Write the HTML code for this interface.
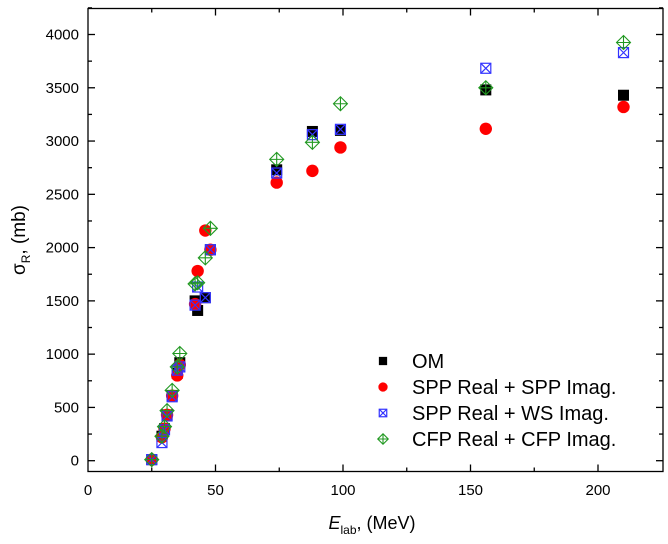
<!DOCTYPE html>
<html><head><meta charset="utf-8"><style>
html,body{margin:0;padding:0;background:#fff;}
svg{display:block;font-family:"Liberation Sans",Arial,sans-serif;}
</style></head><body>
<svg id="chart" width="668" height="544">
<rect x="88" y="8.5" width="575" height="463" fill="none" stroke="#000" stroke-width="1.3"/>
<g id="ticks"></g>
<g id="xlabels" font-size="15" text-anchor="middle"></g>
<g id="ylabels" font-size="15" text-anchor="end"></g>
<text x="372" y="529" font-size="18" text-anchor="middle"><tspan font-style="italic">E</tspan><tspan font-size="12" dy="5">lab</tspan><tspan dy="-5">, (MeV)</tspan></text>
<text transform="translate(25,240) rotate(-90)" font-size="19" text-anchor="middle">σ<tspan font-size="12" dy="5">R</tspan><tspan dy="-5">, (mb)</tspan></text>
<g id="marks"></g>
<g id="legend" font-size="20"></g>
</svg>
<script>
const energies = [25, 29, 30, 31, 33, 35, 36, 42, 43, 46, 48, 74, 88, 99, 156, 210];
const omValues  = [10, 230, 300, 430, 610, 820, 920, 1500, 1410, 1530, 1980, 2730, 3090, 3100, 3480, 3430];
const sppValues = [10, 220, 300, 430, 610, 800, 900, 1470, 1780, 2160, 1980, 2610, 2720, 2940, 3115, 3320];
const wsValues  = [10, 170, 290, 420, 600, 850, 880, 1460, 1630, 1530, 1980, 2700, 3060, 3110, 3683, 3830];
const cfpValues = [10, 230, 320, 470, 660, 880, 1006, 1660, 1670, 1904, 2181, 2828, 2988, 3350, 3500, 3925];
const xTicks = [0, 50, 100, 150, 200];
const yTicks = [0, 500, 1000, 1500, 2000, 2500, 3000, 3500, 4000];
const legendLabels = ["OM", "SPP Real + SPP Imag.", "SPP Real + WS Imag.", "CFP Real + CFP Imag."];

const NS = "http://www.w3.org/2000/svg";
const X0 = 88, XPX = (598 - 88) / 200;
const Y0 = 460.7, YPX = (460.7 - 34.5) / 4000;
const XR = 663, YB = 471.5, YT = 8.5;
const xs = v => X0 + v * XPX;
const ys = v => Y0 - v * YPX;
function mk(tag, attrs, parent) {
  const e = document.createElementNS(NS, tag);
  for (const k in attrs) e.setAttribute(k, attrs[k]);
  parent.appendChild(e);
  return e;
}
const ticks = document.getElementById('ticks');
for (let v = 25; v < 225; v += 25) {
  const len = v % 50 === 0 ? 7 : 4;
  const x = xs(v);
  const t1 = mk('line', {x1: x, x2: x, y1: YB, y2: YB - len, stroke: '#000', 'stroke-width': 1.3}, ticks);
  
  
  const t2 = mk('line', {x1: x, x2: x, y1: YT, y2: YT + len, stroke: '#000', 'stroke-width': 1.3}, ticks);
  
  
}
for (let v = 0; v <= 4250; v += 250) {
  const len = v % 500 === 0 ? 7 : 4;
  const y = ys(v);
  const t1 = mk('line', {x1: 88, x2: 88 + len, y1: y, y2: y, stroke: '#000', 'stroke-width': 1.3}, ticks);
  
  
  const t2 = mk('line', {x1: XR, x2: XR - len, y1: y, y2: y, stroke: '#000', 'stroke-width': 1.3}, ticks);
  
  
}
const xl = document.getElementById('xlabels');
xTicks.forEach(v => {
  const t = mk('text', {x: xs(v), y: 495}, xl);
  t.textContent = v;
  
  
});
const yl = document.getElementById('ylabels');
yTicks.forEach(v => {
  const t = mk('text', {x: 79, y: ys(v) + 5}, yl);
  t.textContent = v;
  
  
});

function drawMarker(kind, cx, cy, parent, s) {
  const g = mk('g', {}, parent);
  if (kind === 0) {
    mk('rect', {x: cx - 5.5*s, y: cy - 5.5*s, width: 11*s, height: 11*s, fill: '#000'}, g);
  } else if (kind === 1) {
    mk('circle', {cx: cx, cy: cy, r: 6.2*s, fill: '#f00'}, g);
  } else if (kind === 2) {
    const h = 5*s;
    mk('rect', {x: cx - h, y: cy - h, width: 2*h, height: 2*h, fill: 'none', stroke: '#33f', 'stroke-width': 1.2}, g);
    mk('path', {d: `M${cx-h} ${cy-h}L${cx+h} ${cy+h}M${cx+h} ${cy-h}L${cx-h} ${cy+h}`, stroke: '#33f', 'stroke-width': 1.2}, g);
  } else {
    const h = 7*s;
    mk('path', {d: `M${cx} ${cy-h}L${cx+h} ${cy}L${cx} ${cy+h}L${cx-h} ${cy}Z M${cx} ${cy-h}V${cy+h}M${cx-h} ${cy}H${cx+h}`, fill: 'none', stroke: '#292', 'stroke-width': 1.1}, g);
  }
  return g;
}
const marks = document.getElementById('marks');
const series = [omValues, sppValues, wsValues, cfpValues];
const seriesNames = ['om-point', 'spp-spp-point', 'spp-ws-point', 'cfp-cfp-point'];
series.forEach((vals, si) => {
  vals.forEach((v, i) => {
    const m = drawMarker(si, xs(energies[i]), ys(v), marks, 1);
    
    
  });
});
const legend = document.getElementById('legend');
const legY = [361, 387, 413, 439];
legendLabels.forEach((lab, i) => {
  const m = drawMarker(i, 383, legY[i], legend, 0.75);
  
  
  const t = mk('text', {x: 412, y: legY[i] + 7}, legend);
  t.textContent = lab;
  
  
});
</script>
</body></html>
